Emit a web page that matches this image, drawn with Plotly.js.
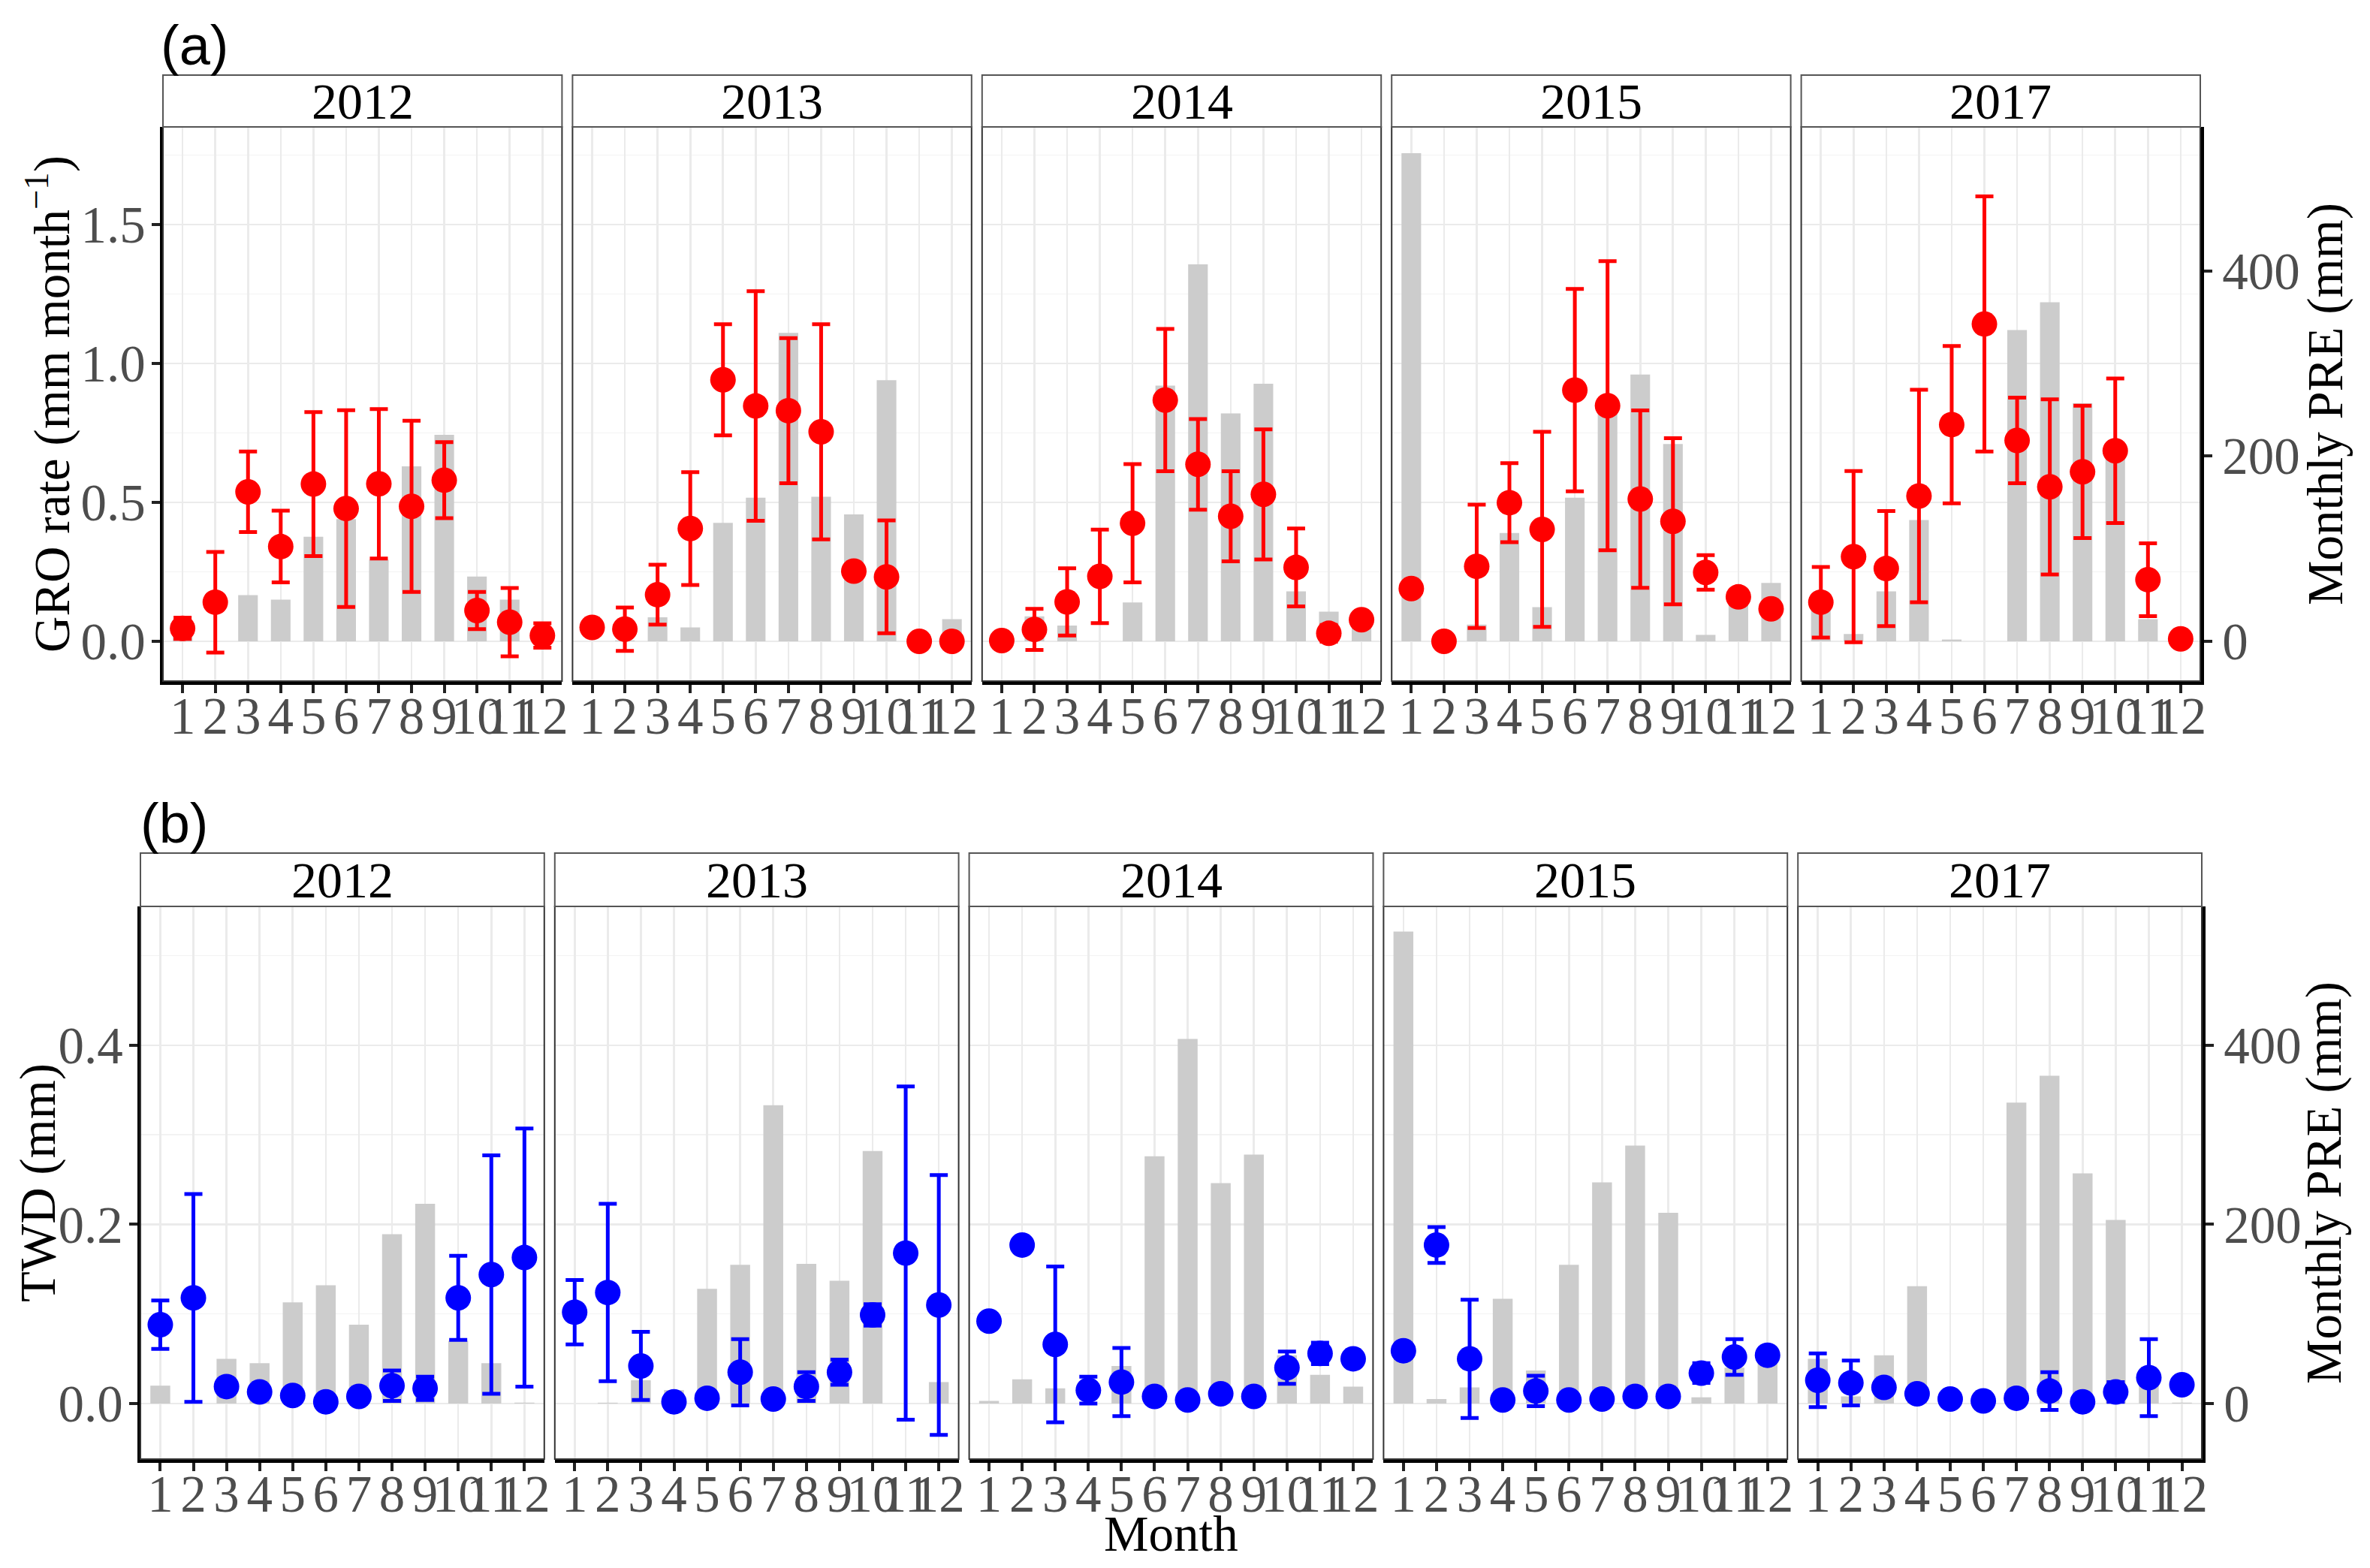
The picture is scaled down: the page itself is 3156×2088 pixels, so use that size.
<!DOCTYPE html>
<html>
<head>
<meta charset="utf-8">
<script src="https://cdn.plot.ly/plotly-3.0.1.min.js"></script>
<style>html,body{margin:0;padding:0;background:#fff;}#chart{width:3156px;height:2088px;}</style>
</head>
<body>
<div id="chart"></div>
<script>
// ---------------- DATA ----------------
const years = ['2012', '2013', '2014', '2015', '2017'];
const months = [1, 2, 3, 4, 5, 6, 7, 8, 9, 10, 11, 12];
const monthLabels = ['1','2','3','4','5','6','7','8','9','10','11','12'];

// Monthly precipitation (mm)
const pre2012 = [20, 0, 50, 45, 113, 132, 88, 189, 223, 70, 45, 1];
const pre2013 = [0, 1, 26, 15, 128, 155, 333, 156, 137, 282, 0, 24];
const pre2014 = [3, 27, 17, 0, 42, 276, 407, 246, 278, 54, 32, 19];
const pre2015 = [527, 5, 18, 117, 37, 155, 247, 288, 213, 7, 40, 63];
const pre2017 = [50, 8, 54, 131, 2, 0, 336, 366, 257, 205, 24, 1];

// GRO rate (mm month-1): mean and error
const gro2012 = [0.047, 0.141, 0.538, 0.341, 0.566, 0.478, 0.567, 0.486, 0.580, 0.111, 0.069, 0.021];
const groErr2012 = [0.038, 0.181, 0.145, 0.129, 0.259, 0.354, 0.269, 0.308, 0.137, 0.067, 0.123, 0.044];
const gro2013 = [0.050, 0.044, 0.168, 0.406, 0.941, 0.847, 0.830, 0.754, 0.253, 0.232, 0.000, 0.000];
const groErr2013 = [0.010, 0.078, 0.108, 0.203, 0.200, 0.413, 0.261, 0.387, 0.010, 0.203, 0.000, 0.000];
const gro2014 = [0.003, 0.043, 0.142, 0.234, 0.425, 0.868, 0.637, 0.450, 0.529, 0.266, 0.029, 0.078];
const groErr2014 = [0.005, 0.074, 0.121, 0.168, 0.213, 0.256, 0.163, 0.162, 0.234, 0.140, 0.030, 0.015];
const gro2015 = [0.190, 0.000, 0.270, 0.499, 0.403, 0.904, 0.848, 0.512, 0.432, 0.248, 0.160, 0.117];
const groErr2015 = [0.010, 0.000, 0.222, 0.142, 0.351, 0.364, 0.520, 0.319, 0.299, 0.062, 0.010, 0.010];
const gro2017 = [0.141, 0.305, 0.262, 0.523, 0.780, 1.142, 0.723, 0.556, 0.610, 0.686, 0.222, 0.009];
const groErr2017 = [0.127, 0.308, 0.207, 0.382, 0.283, 0.459, 0.154, 0.315, 0.238, 0.260, 0.131, 0.000];

// TWD (mm): mean and error
const twd2012 = [0.088, 0.118, 0.019, 0.013, 0.009, 0.002, 0.008, 0.020, 0.017, 0.118, 0.144, 0.163];
const twdErr2012 = [0.027, 0.116, 0.005, 0.005, 0.004, 0.003, 0.004, 0.017, 0.013, 0.047, 0.133, 0.144];
const twd2013 = [0.102, 0.124, 0.042, 0.002, 0.006, 0.035, 0.005, 0.019, 0.035, 0.099, 0.168, 0.110];
const twdErr2013 = [0.036, 0.099, 0.038, 0.002, 0.003, 0.037, 0.003, 0.016, 0.014, 0.012, 0.186, 0.145];
const twd2014 = [0.092, 0.177, 0.066, 0.015, 0.024, 0.008, 0.004, 0.011, 0.008, 0.040, 0.056, 0.050];
const twdErr2014 = [0.000, 0.000, 0.087, 0.015, 0.038, 0.004, 0.002, 0.003, 0.003, 0.018, 0.012, 0.004];
const twd2015 = [0.059, 0.177, 0.050, 0.004, 0.014, 0.004, 0.005, 0.008, 0.008, 0.034, 0.052, 0.054];
const twdErr2015 = [0.008, 0.020, 0.066, 0.002, 0.017, 0.002, 0.003, 0.003, 0.003, 0.011, 0.020, 0.006];
const twd2017 = [0.026, 0.023, 0.018, 0.011, 0.005, 0.003, 0.006, 0.014, 0.002, 0.013, 0.029, 0.021];
const twdErr2017 = [0.030, 0.025, 0.005, 0.004, 0.003, 0.002, 0.003, 0.021, 0.002, 0.011, 0.043, 0.004];

const preByYear = [pre2012, pre2013, pre2014, pre2015, pre2017];
const groByYear = [gro2012, gro2013, gro2014, gro2015, gro2017];
const groErrByYear = [groErr2012, groErr2013, groErr2014, groErr2015, groErr2017];
const twdByYear = [twd2012, twd2013, twd2014, twd2015, twd2017];
const twdErrByYear = [twdErr2012, twdErr2013, twdErr2014, twdErr2015, twdErr2017];

// ---------------- LAYOUT GEOMETRY (pixels) ----------------
const W = 3156, H = 2088;
const fx = p => p / W;
const fy = p => 1 - p / H;
const PA = {left: 217, right: 2930, gap: 14, top: 169, bottom: 907, stripTop: 100,
            groMin: -0.143, groMax: 1.851, k: 300};
const PB = {left: 187, right: 2932, gap: 14, top: 1207, bottom: 1943, stripTop: 1136,
            groMin: -0.062, groMax: 0.555, k: 1000};

function panelX(P, i) {
  const w = (P.right - P.left - 4 * P.gap) / 5;
  const l = P.left + i * (w + P.gap);
  return [l, l + w];
}

const serif = 'Liberation Serif, Times New Roman, serif';
const tickFont = {family: serif, size: 69, color: '#4D4D4D'};
const majorGrid = '#EBEBEB';
const minorGrid = '#F3F3F3';

const layout = {
  width: W, height: H,
  margin: {l: 0, r: 0, t: 0, b: 0},
  paper_bgcolor: '#FFFFFF', plot_bgcolor: '#FFFFFF',
  showlegend: false,
  font: {family: serif, size: 64, color: '#000'},
  shapes: [], annotations: []
};
const traces = [];

function buildPanel(P, xOffset, yMainId, yOverId, vals, errs, color) {
  const yMainKey = 'yaxis' + yMainId.slice(1);
  const yOverKey = 'yaxis' + yOverId.slice(1);
  const lastX = 'x' + (xOffset + 5);
  const firstX = 'x' + (xOffset + 1 === 1 ? '' : xOffset + 1);
  const domY = [fy(P.bottom), fy(P.top)];
  // Main axis (precipitation, right side)
  layout[yMainKey] = {
    domain: domY, anchor: lastX, side: 'right',
    range: [P.groMin * P.k, P.groMax * P.k], tickvals: [0, 200, 400],
    showgrid: false, zeroline: false,
    showline: true, linecolor: '#000', linewidth: 4.5,
    ticks: 'outside', ticklen: 11, tickwidth: 4, tickcolor: '#222',
    tickfont: tickFont, ticklabelstandoff: 0
  };
  // Overlay axis (GRO / TWD, left side) carrying the grid
  const isA = P === PA;
  layout[yOverKey] = {
    overlaying: yMainId, anchor: firstX, side: 'left',
    range: [P.groMin, P.groMax],
    tick0: 0, dtick: isA ? 0.5 : 0.2, tickformat: '.1f',
    showgrid: true, gridcolor: majorGrid, gridwidth: 2.6,
    minor: {tick0: 0, dtick: isA ? 0.25 : 0.1, showgrid: true, gridcolor: minorGrid, gridwidth: 1.4},
    zeroline: false,
    showline: true, linecolor: '#000', linewidth: 4.5,
    ticks: 'outside', ticklen: 11, tickwidth: 4, tickcolor: '#222',
    tickfont: tickFont, ticklabelstandoff: -6
  };
  for (let i = 0; i < 5; i++) {
    const n = xOffset + i + 1;
    const xid = n === 1 ? 'x' : 'x' + n;
    const xkey = n === 1 ? 'xaxis' : 'xaxis' + n;
    const [l, r] = panelX(P, i);
    layout[xkey] = {
      domain: [fx(l), fx(r)], anchor: yMainId,
      range: [0.4, 12.6], tickvals: months, ticktext: monthLabels, tickangle: 0,
      showgrid: true, gridcolor: majorGrid, gridwidth: 2.6, zeroline: false,
      showline: true, linecolor: '#000', linewidth: 4.5,
      ticks: 'outside', ticklen: 11, tickwidth: 4, tickcolor: '#222',
      tickfont: tickFont, ticklabelstandoff: -28
    };
    // panel border
    layout.shapes.push({type: 'rect', xref: 'paper', yref: 'paper',
      x0: fx(l), x1: fx(r), y0: fy(P.bottom), y1: fy(P.top),
      line: {color: '#333333', width: 2}, fillcolor: 'rgba(0,0,0,0)', layer: 'above'});
    // strip
    layout.shapes.push({type: 'rect', xref: 'paper', yref: 'paper',
      x0: fx(l), x1: fx(r), y0: fy(P.top), y1: fy(P.stripTop),
      line: {color: '#555555', width: 2}, fillcolor: '#FFFFFF', layer: 'above'});
    layout.annotations.push({xref: 'paper', yref: 'paper', x: fx((l + r) / 2), y: fy((P.top + P.stripTop) / 2),
      text: years[i], showarrow: false, xanchor: 'center', yanchor: 'middle',
      font: {family: serif, size: 68, color: '#000'}});
    // bars: precipitation
    traces.push({type: 'bar', x: months, y: preByYear[i], width: 0.6,
      marker: {color: '#CCCCCC', line: {width: 0}}, xaxis: xid, yaxis: yMainId, hoverinfo: 'skip'});
    // points with error bars
    traces.push({type: 'scatter', mode: 'markers', x: months, y: vals[i],
      error_y: {type: 'data', array: errs[i], symmetric: true, color: color, thickness: 5, width: 12},
      marker: {color: color, size: 34, line: {width: 0}}, xaxis: xid, yaxis: yOverId, hoverinfo: 'skip'});
  }
}

buildPanel(PA, 0, 'y', 'y2', groByYear, groErrByYear, '#FF0000');
buildPanel(PB, 5, 'y3', 'y4', twdByYear, twdErrByYear, '#0000FF');

// Titles and panel labels
const titleFont = {family: serif, size: 67, color: '#000'};
layout.annotations.push(
  {xref: 'paper', yref: 'paper', x: fx(64), y: fy((PA.top + PA.bottom) / 2), textangle: -90,
   text: 'GRO rate (mm month<sup>−1</sup>)', showarrow: false, xanchor: 'center', yanchor: 'middle', font: titleFont},
  {xref: 'paper', yref: 'paper', x: fx(3096), y: fy((PA.top + PA.bottom) / 2), textangle: -90,
   text: 'Monthly PRE (mm)', showarrow: false, xanchor: 'center', yanchor: 'middle', font: titleFont},
  {xref: 'paper', yref: 'paper', x: fx(50), y: fy((PB.top + PB.bottom) / 2), textangle: -90,
   text: 'TWD (mm)', showarrow: false, xanchor: 'center', yanchor: 'middle', font: titleFont},
  {xref: 'paper', yref: 'paper', x: fx(3094), y: fy((PB.top + PB.bottom) / 2), textangle: -90,
   text: 'Monthly PRE (mm)', showarrow: false, xanchor: 'center', yanchor: 'middle', font: titleFont},
  {xref: 'paper', yref: 'paper', x: fx(1559), y: fy(2042),
   text: 'Month', showarrow: false, xanchor: 'center', yanchor: 'middle', font: titleFont},
  {xref: 'paper', yref: 'paper', x: fx(212), y: fy(60),
   text: '(a)', showarrow: false, xanchor: 'left', yanchor: 'middle',
   font: {family: 'Liberation Sans, Arial, sans-serif', size: 74, color: '#000'}},
  {xref: 'paper', yref: 'paper', x: fx(185), y: fy(1096),
   text: '(b)', showarrow: false, xanchor: 'left', yanchor: 'middle',
   font: {family: 'Liberation Sans, Arial, sans-serif', size: 74, color: '#000'}}
);

Plotly.newPlot('chart', traces, layout, {displayModeBar: false, staticPlot: true});
</script>
</body>
</html>
